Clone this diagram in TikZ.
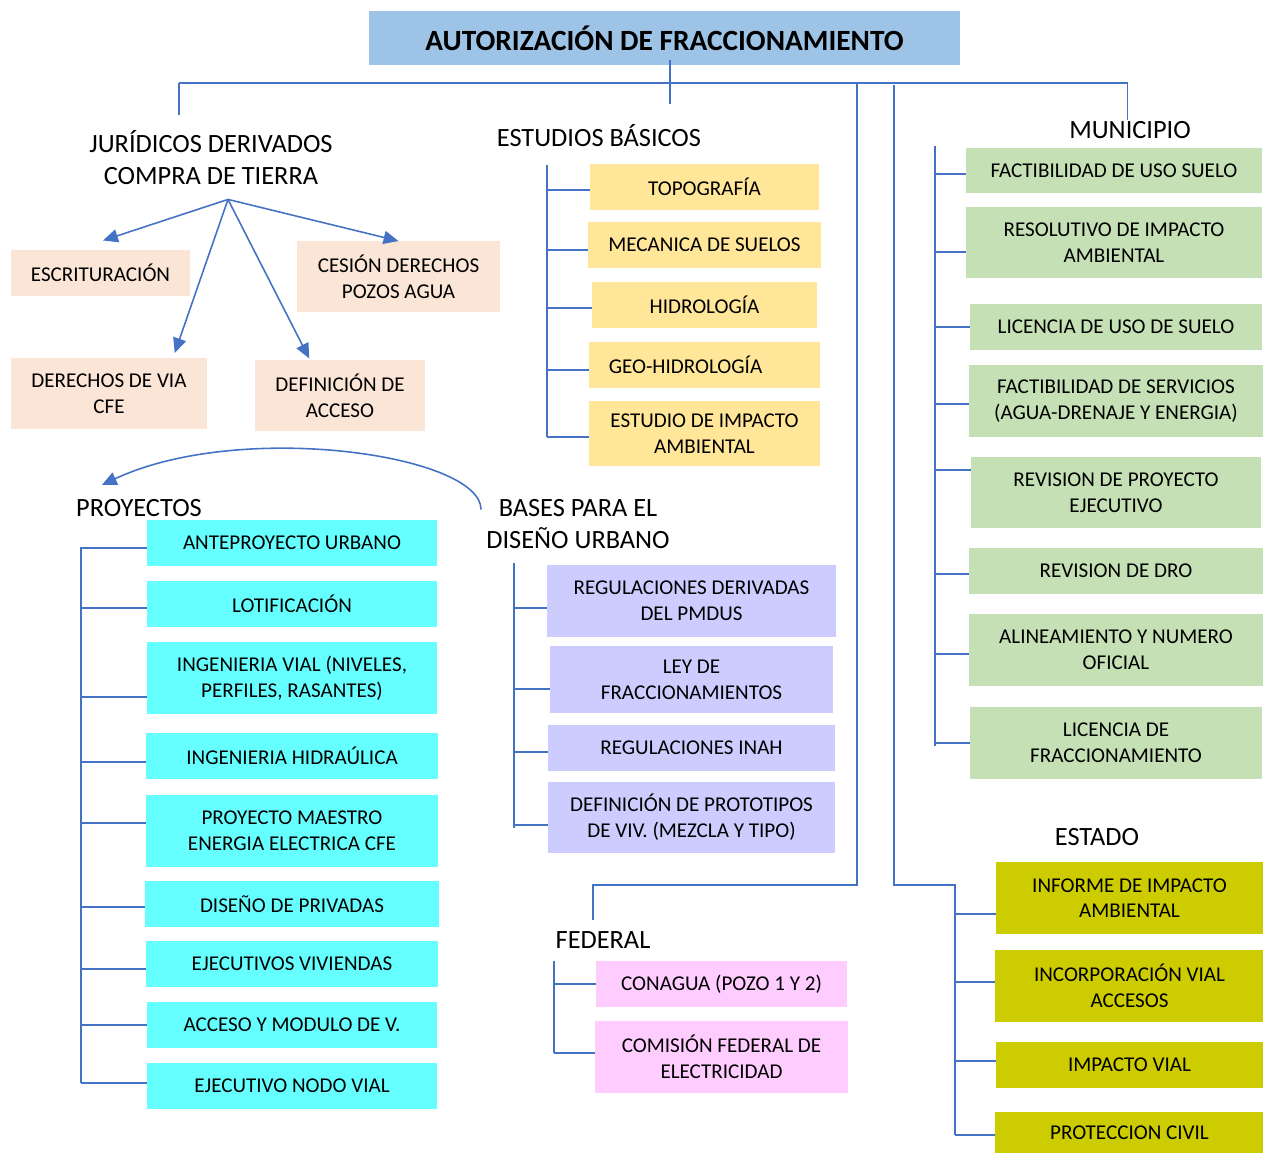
\documentclass[tikz,border=0pt]{standalone}
\usepackage{fontspec}
\setmainfont{Carlito}
\usetikzlibrary{positioning, arrows.meta}

\definecolor{azultitulo}{HTML}{9DC3E6}
\definecolor{azullinea}{HTML}{4472C4}
\definecolor{durazno}{HTML}{FBE5D6}
\definecolor{amarillo}{HTML}{FFE699}
\definecolor{verde}{HTML}{C5E0B4}
\definecolor{cian}{HTML}{66FFFF}
\definecolor{lavanda}{HTML}{CCCCFF}
\definecolor{rosa}{HTML}{FFCCFF}
\definecolor{olivo}{HTML}{CCCC00}

\begin{document}
\begin{tikzpicture}[x=0.02cm, y=-0.02cm,
    % estilos generales
    caja/.style={rectangle, inner sep=0pt, outer sep=0pt, align=center, font=\fontsize{12}{14.6}\selectfont},
    baja/.style={caja, minimum height=0.92cm},
    alta/.style={caja, minimum height=1.44cm},
    grupo/.style={inner sep=0pt, align=center, font=\fontsize{15}{18.2}\selectfont},
    titulo/.style={rectangle, inner sep=0pt, fill=azultitulo, minimum width=11.82cm, minimum height=1.08cm, font=\fontsize{16.7}{20}\selectfont\bfseries},
    jur/.style={fill=durazno},
    est/.style={fill=amarillo},
    proy/.style={fill=cian},
    bas/.style={fill=lavanda},
    mun/.style={fill=verde},
    edo/.style={fill=olivo},
    fed/.style={fill=rosa},
    % estilos de lineas
    linea/.style={draw=azullinea, line width=0.9pt},
    flecha/.style={linea, -{Triangle[length=8.5pt, width=7.5pt]}}
]
\useasboundingbox (0,0) rectangle (1263,1153);

% ====================
% titulo y barra superior
% ====================
\node[titulo] (aut) at (664.5,38) {AUTORIZACIÓN DE FRACCIONAMIENTO};

\coordinate (barra-izq) at (179,83);
\coordinate (barra-der) at (1127.5,83);
\draw[linea] (barra-izq) -- (barra-der);
\draw[linea] ([xshift=0.11cm, yshift=0.1cm]aut.south) -- ++(0,44);
\draw[linea] (barra-izq) -- ++(0,32);

% ====================
% juridicos derivados
% ====================
\node[grupo] (juridicos) at (211,158) {JURÍDICOS DERIVADOS\\COMPRA DE TIERRA};
\coordinate (jo) at ([xshift=0.34cm, yshift=-0.28cm]juridicos.south);

\node[baja, jur, minimum width=3.58cm] (escr) at (100.5,272.5) {ESCRITURACIÓN};
\node[alta, jur, minimum width=4.06cm, minimum height=1.42cm] (cesion) at (398.5,276.5) {CESIÓN DERECHOS\\POZOS AGUA};
\node[alta, jur, minimum width=3.92cm, minimum height=1.42cm] (derechos) at (109,393.5) {DERECHOS DE VIA\\CFE};
\node[alta, jur, minimum width=3.4cm, minimum height=1.42cm] (defacceso) at (340,395.5) {DEFINICIÓN DE\\ACCESO};

\draw[flecha] (jo) -- ([shift={(2.5,-9)}]escr.north);
\draw[flecha] (jo) -- (cesion.north);
\draw[flecha, shorten >=3pt] (jo) -- ([xshift=1.28cm]derechos.north);
\draw[flecha, shorten >=1pt] (jo) -- ([xshift=-0.6cm]defacceso.north);

% ====================
% estudios basicos
% ====================
\node[grupo] (estudios) at (599,136) {ESTUDIOS BÁSICOS};
\node[baja, est, minimum width=4.58cm] (topo) at (704.5,187) {TOPOGRAFÍA};
\node[baja, est, minimum width=4.68cm, below=0.24cm of topo] (meca) {MECANICA DE SUELOS};
\node[baja, est, minimum width=4.52cm, below=0.28cm of meca] (hidro) {HIDROLOGÍA};
\node[baja, est, minimum width=4.64cm, below=0.28cm of hidro] (geohidro) {GEO-HIDROLOGÍA\hspace*{0.76cm}};
\node[caja, est, minimum width=4.64cm, minimum height=1.3cm, below=0.26cm of geohidro] (eia) {ESTUDIO DE IMPACTO\\AMBIENTAL};

\coordinate (est-top) at (547,165);
\coordinate (est-bot) at (547,437);
\draw[linea] (est-top) -- (est-bot);
\draw[linea] ([yshift=-0.06cm]topo.west) -- ([yshift=-0.06cm]topo.west -| est-top);
\draw[linea] ([yshift=-0.1cm]meca.west) -- ([yshift=-0.1cm]meca.west -| est-top);
\draw[linea] ([yshift=-0.06cm]hidro.west) -- ([yshift=-0.06cm]hidro.west -| est-top);
\draw[linea] ([yshift=-0.1cm]geohidro.west) -- ([yshift=-0.1cm]geohidro.west -| est-top);
\draw[linea] ([yshift=-0.07cm]eia.west) -- ([yshift=-0.07cm]eia.west -| est-top);

% ====================
% proyectos
% ====================
\node[grupo] (proyectos) at (139,508) {PROYECTOS};
\node[baja, proy, minimum width=5.8cm] (ante) at (292,543) {ANTEPROYECTO URBANO};
\node[baja, proy, minimum width=5.82cm, below=0.3cm of ante] (lotif) {LOTIFICACIÓN};
\node[alta, proy, minimum width=5.82cm, below=0.3cm of lotif] (ingvial) {INGENIERIA VIAL (NIVELES,\\PERFILES, RASANTES)};
\node[baja, proy, minimum width=5.86cm, below=0.38cm of ingvial] (inghidra) {INGENIERIA HIDRAÚLICA};
\node[alta, proy, minimum width=5.86cm, below=0.32cm of inghidra] (maestro) {PROYECTO MAESTRO\\ENERGIA ELECTRICA CFE};
\node[baja, proy, minimum width=5.9cm, below=0.28cm of maestro] (privadas) {DISEÑO DE PRIVADAS};
\node[baja, proy, minimum width=5.86cm, below=0.28cm of privadas] (viviendas) {EJECUTIVOS VIVIENDAS};
\node[baja, proy, minimum width=5.82cm, below=0.3cm of viviendas] (acceso) {ACCESO Y MODULO DE V.};
\node[baja, proy, minimum width=5.82cm, below=0.3cm of acceso] (nodovial) {EJECUTIVO NODO VIAL};

\coordinate (proy-top) at (81,547);
\coordinate (proy-bot) at (81,1083);
\draw[linea] (proy-top) -- (proy-bot);
\draw[linea] ([yshift=-0.1cm]ante.west) -- ([yshift=-0.1cm]ante.west -| proy-top);
\draw[linea] ([yshift=-0.08cm]lotif.west) -- ([yshift=-0.08cm]lotif.west -| proy-top);
\draw[linea] ([yshift=-0.38cm]ingvial.west) -- ([yshift=-0.38cm]ingvial.west -| proy-top);
\draw[linea] ([yshift=-0.12cm]inghidra.west) -- ([yshift=-0.12cm]inghidra.west -| proy-top);
\draw[linea] ([yshift=0.16cm]maestro.west) -- ([yshift=0.16cm]maestro.west -| proy-top);
\draw[linea] ([yshift=-0.06cm]privadas.west) -- ([yshift=-0.06cm]privadas.west -| proy-top);
\draw[linea] ([yshift=-0.1cm]viviendas.west) -- ([yshift=-0.1cm]viviendas.west -| proy-top);
\draw[linea] (acceso.west) -- (acceso.west -| proy-top);
\draw[linea] ([yshift=0.06cm]nodovial.west) -- ([yshift=0.06cm]nodovial.west -| proy-top);

% ====================
% bases para el diseno urbano
% ====================
\node[grupo] (bases) at (578,524.5) {BASES PARA EL\\DISEÑO URBANO};
\node[alta, bas, minimum width=5.78cm] (regder) at (691.5,601) {REGULACIONES DERIVADAS\\DEL PMDUS};
\node[caja, bas, minimum width=5.68cm, minimum height=1.34cm, below=0.18cm of regder] (ley) {LEY DE\\FRACCIONAMIENTOS};
\node[baja, bas, minimum width=5.76cm, below=0.24cm of ley] (inah) {REGULACIONES INAH};
\node[alta, bas, minimum width=5.76cm, minimum height=1.42cm, below=0.22cm of inah] (prototipos) {DEFINICIÓN DE PROTOTIPOS\\DE VIV. (MEZCLA Y TIPO)};

\coordinate (bas-top) at (514,563);
\coordinate (bas-bot) at (514,828);
\draw[linea] (bas-top) -- (bas-bot);
\draw[linea] ([yshift=-0.14cm]regder.west) -- ([yshift=-0.14cm]regder.west -| bas-top);
\draw[linea] ([yshift=-0.19cm]ley.west) -- ([yshift=-0.19cm]ley.west -| bas-top);
\draw[linea] ([yshift=-0.08cm]inah.west) -- ([yshift=-0.08cm]inah.west -| bas-top);
\draw[linea] ([yshift=-0.15cm]prototipos.west) -- ([yshift=-0.15cm]prototipos.west -| bas-top);

% de bases a proyectos
\draw[flecha] ([shift={(-5,-15)}]bases.west) .. controls +(0,-55) and (240,420) .. ([shift={(26,-14)}]proyectos.north west);

% ====================
% municipio
% ====================
\node[grupo] (municipio) at (1130,130) {MUNICIPIO};
\draw[linea] (barra-der) -- ++(0,37);

\node[caja, mun, minimum width=5.92cm, minimum height=0.9cm] (m1) at (1114,170.5) {FACTIBILIDAD DE USO SUELO};
\node[caja, mun, minimum width=5.94cm, minimum height=1.42cm, below=0.28cm of m1] (m2) {RESOLUTIVO DE IMPACTO\\AMBIENTAL};
\node[baja, mun, minimum width=5.86cm, below=0.52cm of m2, xshift=0.04cm] (m3) {LICENCIA DE USO DE SUELO};
\node[alta, mun, minimum width=5.88cm, below=0.3cm of m3] (m4) {FACTIBILIDAD DE SERVICIOS\\(AGUA-DRENAJE Y ENERGIA)};
\node[caja, mun, minimum width=5.8cm, minimum height=1.42cm, below=0.4cm of m4] (m5) {REVISION DE PROYECTO\\EJECUTIVO};
\node[baja, mun, minimum width=5.88cm, below=0.4cm of m5] (m6) {REVISION DE DRO};
\node[alta, mun, minimum width=5.88cm, below=0.4cm of m6] (m7) {ALINEAMIENTO Y NUMERO\\OFICIAL};
\node[alta, mun, minimum width=5.84cm, below=0.42cm of m7] (m8) {LICENCIA DE\\FRACCIONAMIENTO};

\coordinate (mun-top) at (935,146);
\coordinate (mun-bot) at (935,746);
\draw[linea] (mun-top) -- (mun-bot);
\draw[linea] ([yshift=-0.07cm]m1.west) -- ([yshift=-0.07cm]m1.west -| mun-top);
\draw[linea] ([yshift=-0.19cm]m2.west) -- ([yshift=-0.19cm]m2.west -| mun-top);
\draw[linea] (m3.west) -- (m3.west -| mun-top);
\draw[linea] ([yshift=-0.06cm]m4.west) -- ([yshift=-0.06cm]m4.west -| mun-top);
\draw[linea] ([yshift=0.45cm]m5.west) -- ([yshift=0.45cm]m5.west -| mun-top);
\draw[linea] ([yshift=-0.06cm]m6.west) -- ([yshift=-0.06cm]m6.west -| mun-top);
\draw[linea] ([yshift=-0.08cm]m7.west) -- ([yshift=-0.08cm]m7.west -| mun-top);
\draw[linea] (m8.west) -- (m8.west -| mun-top);

% ====================
% estado
% ====================
\node[grupo] (estado) at (1097,837.5) {ESTADO};
\node[alta, edo, minimum width=5.34cm] (s1) at (1129.5,898) {INFORME DE IMPACTO\\AMBIENTAL};
\node[alta, edo, minimum width=5.38cm, below=0.32cm of s1] (s2) {INCORPORACIÓN VIAL\\ACCESOS};
\node[baja, edo, minimum width=5.34cm, below=0.4cm of s2] (s3) {IMPACTO VIAL};
\node[caja, edo, minimum width=5.38cm, minimum height=0.82cm, below=0.48cm of s3] (s4) {PROTECCION CIVIL};

\coordinate (edo-top) at (894,85);
\coordinate (edo-codo) at (955,885);
\coordinate (edo-bot) at (955,1135);
\draw[linea] (edo-top) |- (edo-codo) -- (edo-bot);
\draw[linea] ([yshift=-0.32cm]s1.west) -- ([yshift=-0.32cm]s1.west -| edo-codo);
\draw[linea] ([yshift=0.08cm]s2.west) -- ([yshift=0.08cm]s2.west -| edo-codo);
\draw[linea] ([yshift=0.08cm]s3.west) -- ([yshift=0.08cm]s3.west -| edo-codo);
\draw[linea] ([yshift=-0.05cm]s4.west) -- ([yshift=-0.05cm]s4.west -| edo-codo);

% ====================
% federal
% ====================
\node[grupo] (federal) at (603,940) {FEDERAL};
\node[baja, fed, minimum width=5.02cm] (f1) at (721.5,984) {CONAGUA (POZO 1 Y 2)};
\node[alta, fed, minimum width=5.06cm, below=0.28cm of f1] (f2) {COMISIÓN FEDERAL DE\\ELECTRICIDAD};

\coordinate (fed-top) at (857,83);
\coordinate (fed-codo) at (857,885);
\draw[linea] (fed-top) -- (fed-codo) -| ([shift={(-10,-11)}]federal.north);

\coordinate (fed-a) at (554,961);
\coordinate (fed-b) at (554,1053);
\draw[linea] (fed-a) -- (fed-b);
\draw[linea] (f1.west) -- (f1.west -| fed-a);
\draw[linea] ([yshift=0.08cm]f2.west) -- ([yshift=0.08cm]f2.west -| fed-a);

\end{tikzpicture}
\end{document}
